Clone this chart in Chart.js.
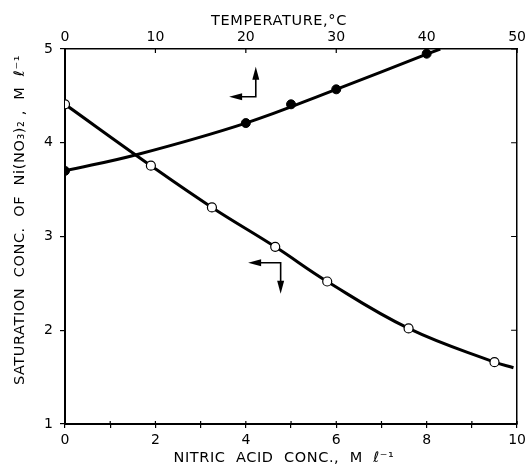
<!DOCTYPE html>
<html>
<head>
<meta charset="utf-8">
<script src="https://cdn.jsdelivr.net/npm/chart.js@4/dist/chart.umd.min.js"></script>
<style>
  body { margin: 0; background: #fff; }
  #wrap { width: 530px; height: 466px; }
</style>
</head>
<body>
<div id="wrap"><canvas id="chart" width="530" height="466"></canvas></div>
<script>
// nitric acid conc. (M/l) -> saturation conc. of Ni(NO3)2, open circles, bottom axis
const acidConc = [0, 1.9, 3.25, 4.65, 5.8, 7.6, 9.5]
const acidSat = [4.41, 3.755, 3.31, 2.89, 2.52, 2.02, 1.66]
// where the drawn curve stops
const acidCurveEnd = [9.92, 1.6]

// temperature (C) -> saturation conc., filled circles, top axis
const tempC = [0, 20, 25, 30, 40]
const tempSat = [3.7, 4.21, 4.41, 4.57, 4.95]
// fitted curve
const tempCurveX = [0, 8, 20, 30, 40, 41.5]
const tempCurveY = [3.7, 3.875, 4.21, 4.57, 4.945, 5.0]

const acidTickLabels = [0, 2, 4, 6, 8, 10]
const tempTickLabels = [0, 10, 20, 30, 40, 50]
const satTickLabels = [1, 2, 3, 4, 5]

// arrows telling which axis belongs to which curve (data units of bottom/left axes)
const tempArrow = { corner: [4.22, 4.49], tipX: 3.63, tipY: 4.81 }
const acidArrow = { corner: [4.77, 2.72], tipX: 4.05, tipY: 2.39 }

const pts = (xs, ys) => xs.map((v, i) => ({ x: v, y: ys[i] }))

Chart.defaults.font.family = "'DejaVu Sans', sans-serif"
Chart.defaults.color = "#000"

function arrowHead(ctx, x, y, dir) {
  // dir: "left" | "up" | "down"
  const len = 13, half = 3.5
  ctx.beginPath()
  if (dir === "left") {
    ctx.moveTo(x, y); ctx.lineTo(x + len, y - half); ctx.lineTo(x + len, y + half)
  } else if (dir === "up") {
    ctx.moveTo(x, y); ctx.lineTo(x - half, y + len); ctx.lineTo(x + half, y + len)
  } else {
    ctx.moveTo(x, y); ctx.lineTo(x - half, y - len); ctx.lineTo(x + half, y - len)
  }
  ctx.closePath()
  ctx.fill()
}

const extras = {
  id: "extras",
  afterDraw(chart) {
    const ctx = chart.ctx
    const { x, x2, y } = chart.scales
    const area = chart.chartArea
    ctx.save()
    ctx.strokeStyle = "#000"
    ctx.fillStyle = "#000"

    // inward tick marks
    ctx.lineWidth = 1.2
    ctx.beginPath()
    x.ticks.forEach((t) => {
      const px = x.getPixelForValue(t.value)
      ctx.moveTo(px, area.bottom)
      ctx.lineTo(px, area.bottom - 3)
    })
    x2.ticks.forEach((t) => {
      const px = x2.getPixelForValue(t.value)
      ctx.moveTo(px, area.top)
      ctx.lineTo(px, area.top + 4)
    })
    y.ticks.forEach((t) => {
      const py = y.getPixelForValue(t.value)
      ctx.moveTo(area.right, py)
      ctx.lineTo(area.right - 6, py)
    })
    ctx.stroke()

    // L-shaped arrows
    ctx.lineWidth = 1.6
    const cx1 = x.getPixelForValue(tempArrow.corner[0]), cy1 = y.getPixelForValue(tempArrow.corner[1])
    const lx1 = x.getPixelForValue(tempArrow.tipX), ty1 = y.getPixelForValue(tempArrow.tipY)
    ctx.beginPath()
    ctx.moveTo(lx1 + 8, cy1); ctx.lineTo(cx1, cy1); ctx.lineTo(cx1, ty1 + 8)
    ctx.stroke()
    arrowHead(ctx, lx1, cy1, "left")
    arrowHead(ctx, cx1, ty1, "up")

    const cx2 = x.getPixelForValue(acidArrow.corner[0]), cy2 = y.getPixelForValue(acidArrow.corner[1])
    const lx2 = x.getPixelForValue(acidArrow.tipX), ty2 = y.getPixelForValue(acidArrow.tipY)
    ctx.beginPath()
    ctx.moveTo(lx2 + 8, cy2); ctx.lineTo(cx2, cy2); ctx.lineTo(cx2, ty2 - 8)
    ctx.stroke()
    arrowHead(ctx, lx2, cy2, "left")
    arrowHead(ctx, cx2, ty2, "down")

    // axis titles
    ctx.font = "14.5px 'DejaVu Sans', sans-serif"
    ctx.letterSpacing = "0.6px"
    ctx.textAlign = "center"
    ctx.textBaseline = "middle"
    ctx.fillText("TEMPERATURE,°C", 279, 21)
    ctx.fillText("NITRIC  ACID  CONC.,  M  ℓ⁻¹", 284, 458)
    ctx.translate(20, 220)
    ctx.rotate(-Math.PI / 2)
    ctx.fillText("SATURATION  CONC.  OF  Ni(NO₃)₂ ,  M  ℓ⁻¹", 0, 0)
    ctx.restore()
  }
}

new Chart(document.getElementById("chart"), {
  type: "line",
  data: {
    datasets: [
      {
        data: pts(acidConc, acidSat),
        xAxisID: "x",
        yAxisID: "y",
        showLine: false,
        pointRadius: 4.5,
        pointBackgroundColor: "#fff",
        pointBorderColor: "#000",
        pointBorderWidth: 1.2,
        order: 0
      },
      {
        data: pts(tempC, tempSat),
        xAxisID: "x2",
        yAxisID: "y",
        showLine: false,
        pointRadius: 4.5,
        pointBackgroundColor: "#000",
        pointBorderColor: "#000",
        order: 0
      },
      {
        data: pts(acidConc.concat(acidCurveEnd[0]), acidSat.concat(acidCurveEnd[1])),
        xAxisID: "x",
        yAxisID: "y",
        borderColor: "#000",
        borderWidth: 3,
        pointRadius: 0,
        tension: 0.4,
        fill: false,
        order: 1
      },
      {
        data: pts(tempCurveX, tempCurveY),
        xAxisID: "x2",
        yAxisID: "y",
        borderColor: "#000",
        borderWidth: 3,
        pointRadius: 0,
        tension: 0.4,
        fill: false,
        order: 1
      }
    ]
  },
  options: {
    responsive: false,
    animation: false,
    devicePixelRatio: 1,
    layout: { padding: 0 },
    plugins: {
      legend: { display: false },
      tooltip: { enabled: false }
    },
    scales: {
      x: {
        type: "linear",
        position: "bottom",
        min: acidTickLabels[0],
        max: acidTickLabels[acidTickLabels.length - 1],
        ticks: {
          stepSize: 1,
          autoSkip: false,
          maxRotation: 0,
          padding: 4,
          font: { size: 14 },
          callback: (v) => (acidTickLabels.includes(v) ? String(v) : "")
        },
        grid: { drawOnChartArea: false, tickLength: 4, color: "#000", lineWidth: 1.2 },
        border: { color: "#000", width: 2 },
        afterFit: (s) => { s.height = 42 }
      },
      x2: {
        type: "linear",
        position: "top",
        min: tempTickLabels[0],
        max: tempTickLabels[tempTickLabels.length - 1],
        ticks: { stepSize: 10, maxRotation: 0, padding: 3, font: { size: 14 } },
        grid: { drawOnChartArea: false, drawTicks: false },
        border: { color: "#000", width: 1.5 },
        afterFit: (s) => { s.height = 49 }
      },
      y: {
        type: "linear",
        position: "left",
        min: satTickLabels[0],
        max: satTickLabels[satTickLabels.length - 1],
        ticks: { stepSize: 1, padding: 7, font: { size: 14 } },
        grid: { drawOnChartArea: false, tickLength: 5, color: "#000", lineWidth: 1.2 },
        border: { color: "#000", width: 2 },
        afterFit: (s) => { s.width = 65 }
      },
      y2: {
        type: "linear",
        position: "right",
        min: satTickLabels[0],
        max: satTickLabels[satTickLabels.length - 1],
        ticks: { display: false },
        grid: { drawOnChartArea: false, drawTicks: false },
        border: { color: "#000", width: 1.5 },
        afterFit: (s) => { s.width = 8 }
      }
    }
  },
  plugins: [extras]
})
</script>
</body>
</html>
